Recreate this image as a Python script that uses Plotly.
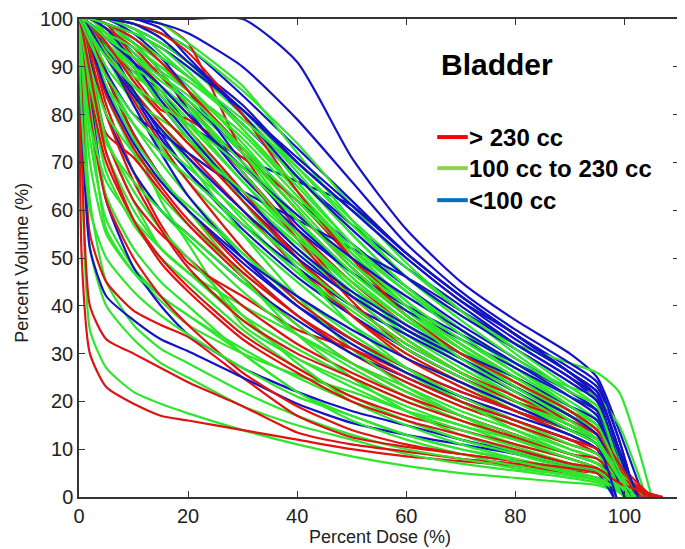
import plotly.graph_objects as go

# Dose grid (percent dose) on which each curve's volume was read
dose_grid = [0, 0.5, 2, 5, 10, 15, 20, 30, 40, 50, 60, 70, 80, 90, 95]
tail_dose = 99

red_volumes = [
    [100, 50, 30, 23, 19.5, 17, 16, 14, 12, 10, 8.5, 7.5, 6.5, 5, 4],
    [100, 72, 40, 33, 30, 27, 24, 19, 13.5, 11, 9.5, 8, 7, 5.5, 5],
    [100, 85, 55, 45, 39, 36, 33.5, 25, 17, 12.5, 10.5, 9, 7.5, 6, 5],
    [100, 99, 95, 82, 68, 57, 49, 42, 35, 31, 26, 21, 16, 12, 9],
    [100, 98, 90, 75, 62, 55, 50, 40, 32, 26, 21, 17, 13, 9, 7],
    [100, 100, 98, 93, 85, 78, 72, 60, 48, 38, 30, 24, 19, 14, 11],
    [100, 100, 100, 100, 100, 99, 95, 72, 56, 45, 36, 29, 22, 16, 12],
    [100, 100, 98, 95, 88, 81, 79, 71, 62, 50, 40, 32, 25, 18, 14],
    [100, 99, 88, 76, 71, 64, 57, 46, 36, 28, 22, 17, 13, 9, 7],
    [100, 100, 100, 99, 92, 86, 80, 68, 55, 42, 33, 26, 20, 15, 12],
    [100, 97, 85, 70, 58, 50, 44, 34, 27, 21, 17, 14, 11, 8, 6],
    [100, 100, 97, 88, 76, 67, 60, 48, 38, 30, 24, 19, 15, 11, 9],
    [100, 100, 99, 96, 90, 84, 77, 64, 50, 38, 29, 23, 18, 13, 10],
    [100, 96, 80, 62, 50, 42, 36, 26, 19, 14, 11, 9, 7.5, 6, 5],
    [100, 100, 100, 98, 94, 88, 82, 68, 54, 41, 31, 25, 20, 16, 13],
    [100, 100, 99, 93, 83, 74, 66, 52, 41, 33, 27, 22, 18, 14, 11],
    [100, 99, 93, 80, 66, 56, 48, 37, 30, 25, 20, 16, 12.5, 9, 8],
    [100, 100, 100, 100, 99, 97, 93, 80, 64, 50, 38, 30, 23, 17, 13],
    [100, 100, 99, 95, 87, 80, 74, 62, 50, 40, 32, 26, 21, 16, 13],
    [100, 99, 94, 84, 73, 65, 58, 47, 38, 31, 25, 20, 16, 12, 10],
    [100, 100, 100, 99, 96, 91, 85, 73, 60, 48, 38, 30, 24, 18, 14],
    [100, 98, 89, 72, 58, 49, 43, 33, 26, 20, 16, 13, 10, 7, 6],
]
red_tail = [2, 2.5, 2, 5, 4, 6, 7, 7, 3.5, 6, 3, 4.5, 5, 2.5, 7, 5.5, 4, 6, 6, 4.5, 7, 3]
red_end = [106, 107, 105, 104, 104, 104, 103, 105, 106, 104, 106, 105, 104, 107, 103, 105, 106,
           103, 104, 105, 103, 106]

green_volumes = [
    [100, 70, 35, 27, 22, 19.5, 17.5, 14, 11, 8.5, 6.5, 5, 4, 3, 2.5],
    [100, 85, 52, 40, 33, 28, 25, 19, 15, 12, 9, 7, 5.5, 4, 3],
    [100, 97, 80, 56, 47, 41, 36, 30, 25.5, 22, 18, 15, 11, 8, 6],
    [100, 99, 92, 75, 62, 52, 47, 40, 34, 28, 23, 18, 14, 10, 8],
    [100, 100, 97, 88, 75, 62, 53, 36, 29, 24, 19, 15, 12, 9, 7],
    [100, 90, 62, 45, 36, 31, 28, 22, 17, 13, 10, 8, 6, 4.5, 3.5],
    [100, 95, 75, 58, 48, 42, 38, 30, 22, 17, 13, 10, 8, 5.5, 4],
    [100, 98, 85, 68, 57, 50, 45, 35, 27, 21, 16, 12, 9, 6, 5],
    [100, 99, 92, 80, 68, 60, 54, 43, 34, 27, 21, 16, 12, 8, 6],
    [100, 100, 96, 88, 78, 70, 63, 51, 41, 33, 26, 20, 15, 10, 8],
    [100, 100, 98, 93, 85, 78, 71, 58, 47, 38, 30, 24, 18, 13, 10],
    [100, 100, 99, 96, 91, 85, 79, 66, 54, 44, 35, 28, 21, 15, 12],
    [100, 100, 100, 98, 95, 91, 86, 74, 61, 49, 39, 31, 24, 17, 13],
    [100, 100, 100, 99, 97, 94, 90, 80, 68, 55, 44, 35, 27, 19, 15],
    [100, 100, 100, 100, 99, 97, 94, 85, 74, 61, 49, 39, 30, 22, 18],
    [100, 100, 100, 100, 100, 99, 95, 86, 72, 58, 46, 38, 32, 28, 26],
    [100, 100, 100, 100, 99, 96, 91, 80, 66, 53, 43, 35, 28, 23, 21],
    [100, 100, 99, 97, 93, 88, 82, 70, 58, 47, 38, 31, 25, 19, 16],
    [100, 100, 98, 92, 82, 73, 66, 55, 45, 36, 29, 23, 18, 14, 12],
    [100, 99, 95, 84, 72, 63, 57, 47, 38, 30, 24, 19, 15, 11, 9],
    [100, 98, 88, 72, 60, 52, 47, 38, 31, 25, 20, 16, 12, 9, 7],
    [100, 92, 70, 55, 47, 42, 38, 31, 25, 20, 16, 12, 9, 6, 5],
    [100, 100, 100, 97, 90, 82, 75, 62, 50, 40, 32, 26, 20, 15, 12],
    [100, 100, 99, 95, 87, 80, 74, 63, 53, 43, 34, 27, 21, 15, 12],
    [100, 100, 100, 99, 96, 91, 85, 72, 58, 46, 37, 30, 24, 18, 15],
    [100, 100, 100, 98, 94, 90, 87, 78, 67, 55, 44, 35, 27, 20, 16],
    [100, 100, 99, 97, 92, 89, 85, 76, 64, 52, 41, 32, 25, 18, 14],
    [100, 100, 98, 94, 88, 85, 82, 72, 60, 48, 39, 31, 24, 17, 13],
    [100, 100, 97, 90, 83, 79, 75, 64, 52, 42, 33, 26, 20, 14, 11],
    [100, 97, 82, 63, 52, 45, 40, 30, 22, 16, 12, 9, 6.5, 4.5, 3.5],
    [100, 99, 90, 75, 64, 56, 50, 38, 28, 20, 15, 11, 8, 5, 4],
    [100, 100, 96, 86, 75, 67, 60, 46, 34, 25, 18, 13, 9.5, 6.5, 5],
    [100, 100, 98, 92, 84, 77, 70, 55, 42, 31, 23, 17, 12, 8, 6],
    [100, 100, 99, 95, 89, 83, 77, 62, 48, 36, 27, 20, 14, 9, 7],
    [100, 100, 100, 99, 96, 92, 88, 77, 64, 51, 40, 31, 23, 16, 12],
    [100, 80, 60, 50, 43, 38, 34, 27, 21, 17, 13, 10, 7.5, 5, 4],
    [100, 93, 78, 66, 58, 52, 47, 37, 29, 23, 18, 14, 10.5, 7, 5.5],
    [100, 100, 100, 100, 98, 95, 91, 81, 69, 57, 46, 37, 29, 22, 19],
    [100, 100, 99, 96, 90, 84, 78, 66, 55, 45, 37, 30, 24, 18, 15],
    [100, 100, 100, 99, 95, 89, 82, 68, 55, 44, 36, 29, 23, 17, 14],
    [100, 100, 100, 97, 92, 87, 83, 73, 62, 51, 41, 33, 26, 19, 15],
    [100, 100, 99, 95, 90, 86, 81, 70, 59, 49, 40, 32, 25, 18, 14],
    [100, 100, 98, 93, 86, 80, 74, 64, 54, 45, 37, 30, 23, 17, 13],
    [100, 100, 99, 97, 94, 90, 85, 75, 63, 52, 43, 35, 28, 21, 17],
    [100, 99, 94, 86, 78, 72, 67, 57, 47, 39, 31, 25, 19, 14, 11],
    [100, 98, 90, 80, 72, 66, 61, 51, 42, 34, 27, 21, 16, 11, 9],
    [100, 100, 100, 100, 98, 93, 88, 79, 69, 58, 48, 39, 31, 23, 19],
    [100, 100, 97, 92, 86, 82, 78, 69, 58, 47, 38, 30, 23, 16, 12],
    [100, 97, 86, 74, 66, 60, 55, 45, 36, 28, 22, 17, 13, 9, 7],
    [100, 100, 100, 99, 97, 94, 89, 77, 65, 53, 43, 34, 26, 19, 15],
    [100, 100, 99, 96, 92, 88, 84, 73, 60, 48, 38, 29, 22, 15, 11],
    [100, 99, 95, 88, 80, 74, 69, 59, 49, 40, 32, 26, 20, 14, 11],
]
green_tail = [1, 1.2, 2.5, 3, 2.5, 1.3, 1.5, 2, 2.2, 3, 4, 4.5, 5, 5.5, 7, 22, 15, 6, 4.5, 3.5,
              2.5, 1.8, 4.5, 4.5, 5.5, 6, 5, 5, 4, 1, 1.3, 1.8, 2.2, 2.8, 4, 1.5, 2, 8, 5.5, 5,
              6, 5.5, 5, 6.5, 4, 3, 7, 4.5, 2.5, 5.5, 4, 4]
green_end = [101, 101, 102, 102, 102, 100, 100.5, 101, 101.5, 102, 102, 102.5, 103, 102, 102, 105,
             104, 103, 104, 103, 102, 101, 103, 102, 103, 102, 102, 103, 101, 100, 100, 101, 101,
             102, 101, 101, 102, 103, 104, 102, 102, 103, 102, 103, 102, 101, 103, 102, 101, 102,
             101, 102]

blue_volumes = [
    [100, 100, 100, 100, 100, 100, 100, 100, 91, 71, 56, 45, 37, 30, 25],
    [100, 100, 100, 100, 99, 97, 94, 84, 73, 62, 51, 42, 34, 27, 23],
    [100, 100, 100, 100, 98, 95, 91, 82, 70, 60, 50, 41, 34, 26, 22],
    [100, 100, 100, 99, 96, 92, 88, 78, 67, 57, 48, 40, 32, 25, 20],
    [100, 100, 100, 98, 93, 88, 83, 72, 62, 53, 44, 36, 29, 22, 18],
    [100, 100, 98, 94, 89, 85, 78, 71, 66, 61, 51, 42, 34, 26, 21],
    [100, 95, 84, 62, 48, 40, 34, 27, 22, 18, 15, 12, 9.5, 7, 5.5],
    [100, 80, 52, 42, 37, 33, 30.5, 25, 19.5, 15.5, 13, 11, 9, 6.5, 5],
    [100, 100, 99, 95, 85, 76, 68, 56, 46, 38, 31, 25, 20, 15, 12],
    [100, 100, 97, 88, 76, 67, 60, 49, 40, 33, 27, 22, 18, 14, 11],
    [100, 100, 100, 97, 90, 82, 75, 62, 51, 42, 35, 29, 23, 17, 14],
    [100, 100, 99, 94, 84, 75, 68, 57, 48, 40, 34, 28, 22, 16, 13],
    [100, 100, 98, 89, 80, 76, 72, 64, 58, 52, 46, 39, 32, 25, 21],
    [100, 99, 92, 80, 68, 60, 55, 45, 37, 30, 25, 20, 16, 12, 10],
    [100, 100, 100, 100, 97, 92, 85, 70, 57, 47, 39, 33, 27, 21, 18],
    [100, 100, 100, 99, 95, 89, 81, 67, 56, 47, 40, 34, 28, 22, 18],
    [100, 100, 99, 93, 82, 72, 63, 50, 40, 32, 26, 21, 17, 13, 10],
    [100, 100, 100, 100, 100, 99, 97, 90, 79, 66, 53, 43, 35, 28, 24],
    [100, 100, 100, 100, 100, 98, 92, 80, 67, 56, 46, 38, 31, 24, 20],
    [100, 100, 100, 98, 91, 83, 76, 63, 52, 43, 36, 30, 25, 19, 16],
    [100, 100, 100, 99, 97, 94, 90, 81, 71, 61, 51, 42, 34, 26, 22],
    [100, 100, 99, 96, 91, 86, 80, 69, 59, 50, 42, 35, 28, 21, 17],
    [100, 100, 98, 92, 84, 77, 71, 60, 50, 42, 35, 29, 23, 17, 13],
    [100, 100, 100, 100, 99, 96, 91, 81, 70, 60, 50, 41, 33, 26, 22],
    [100, 99, 95, 85, 74, 66, 60, 50, 42, 35, 29, 24, 19, 14, 11],
]
blue_tail = [14, 12, 10, 8, 6, 6, 1.5, None, 3, 2, 3, 4, 6, None, 3, 6, None, 12, 7, 5,
             9, 5, 3, 10, None]
blue_end = [103.5, 102, 102, 101, 101, 101, 100, 98, 100, 100, 100, 101, 101, 98.5, 100, 102,
            98, 102, 101, 101, 102, 101, 100, 102.5, 98.5]

groups = [
    ("green", green_volumes, green_tail, green_end, "#2ee62e"),
    ("red", red_volumes, red_tail, red_end, "#dc1414"),
    ("blue", blue_volumes, blue_tail, blue_end, "#1414c4"),
]

# interleave the drawing order of the three groups
order = []
for name, vols, tails, ends, color in groups:
    n = len(vols)
    for i in range(n):
        order.append(((i + 0.5) / n, vols[i], tails[i], ends[i], color))
order.sort(key=lambda t: t[0])

fig = go.Figure()
for _, vols, tail, end, color in order:
    xs = list(dose_grid)
    ys = list(vols)
    if tail is not None:
        xs.append(tail_dose)
        ys.append(tail)
    xs.append(end)
    ys.append(0)
    fig.add_trace(go.Scatter(x=xs, y=ys, mode="lines",
                             line=dict(color=color, width=2.2, shape="spline", smoothing=0.6),
                             hoverinfo="skip", showlegend=False))

font_family = "Arial, Liberation Sans, Helvetica, sans-serif"

legend_labels = ["> 230 cc", "100 cc to 230 cc", "<100 cc"]
legend_colors = ["#ff0000", "#92d050", "#0070c0"]
legend_y = [0.753, 0.688, 0.621]

shapes = []
annotations = []
for lab, col, yy in zip(legend_labels, legend_colors, legend_y):
    shapes.append(dict(type="line", xref="paper", yref="paper", x0=0.597, x1=0.648,
                       y0=yy, y1=yy, line=dict(color=col, width=4)))
    annotations.append(dict(text="<b>%s</b>" % lab, xref="paper", yref="paper", x=0.646, y=yy,
                            xanchor="left", yanchor="middle", showarrow=False,
                            font=dict(family=font_family, size=24, color="#000")))
annotations.append(dict(text="<b>Bladder</b>", xref="paper", yref="paper", x=0.600, y=0.904,
                        xanchor="left", yanchor="middle", showarrow=False,
                        font=dict(family=font_family, size=30, color="#000")))
annotations.append(dict(text="Percent Dose (%)", xref="paper", yref="paper", x=0.502, y=-0.084,
                        xanchor="center", yanchor="middle", showarrow=False,
                        font=dict(family=font_family, size=18, color="#222")))
annotations.append(dict(text="Percent Volume (%)", xref="paper", yref="paper", x=-0.095, y=0.49,
                        xanchor="center", yanchor="middle", showarrow=False, textangle=-90,
                        font=dict(family=font_family, size=18, color="#222")))

axis_common = dict(showgrid=False, zeroline=False, showline=True, linecolor="#333",
                   linewidth=1.5, ticks="inside", ticklen=6, tickcolor="#333",
                   mirror="ticks", automargin=False,
                   tickfont=dict(family=font_family, size=20, color="#222"))

# the page body adds an 8px offset, so the figure is sized to fill the remaining window
fig.update_layout(
    width=677, height=541,
    margin=dict(l=71, r=6, t=11, b=52),
    paper_bgcolor="white", plot_bgcolor="white",
    showlegend=False,
    shapes=shapes, annotations=annotations,
    xaxis=dict(range=[0, 110], tickvals=[0, 20, 40, 60, 80, 100], **axis_common),
    yaxis=dict(range=[0, 100], tickvals=list(range(0, 101, 10)), **axis_common),
)

fig.write_html("out.html")
